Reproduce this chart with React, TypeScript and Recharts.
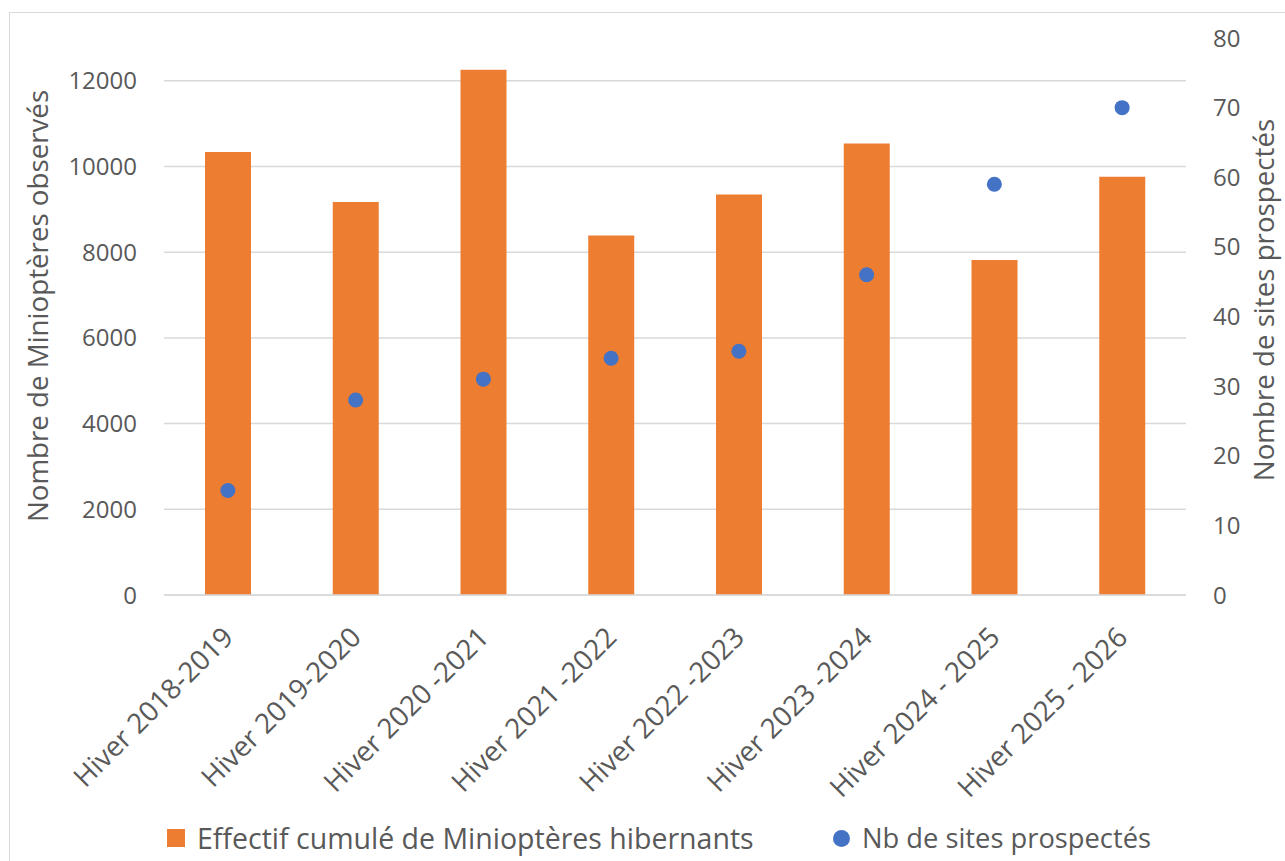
import { ComposedChart, Bar, Line, XAxis, YAxis, CartesianGrid, Legend } from 'recharts';

const seasons = [
  'Hiver 2018-2019',
  'Hiver 2019-2020',
  'Hiver 2020 -2021',
  'Hiver 2021 -2022',
  'Hiver 2022 -2023',
  'Hiver 2023 -2024',
  'Hiver 2024 - 2025',
  'Hiver 2025 - 2026',
];
const effectifs = [10340, 9170, 12260, 8390, 9350, 10540, 7820, 9760];
const sites = [15, 28, 31, 34, 35, 46, 59, 70];
const leftTicks = [0, 2000, 4000, 6000, 8000, 10000, 12000];
const rightTicks = [0, 10, 20, 30, 40, 50, 60, 70, 80];

const FONT = '"Open Sans", sans-serif';
const TEXT = '#595959';
const ORANGE = '#ED7D31';
const BLUE = '#4472C4';

const data = seasons.map((season, i) => ({ season, effectif: effectifs[i], sites: sites[i] }));

function SeasonTick({ x, y, payload }: { x?: number; y?: number; payload?: { value: string } }) {
  return (
    <g transform={`translate(${(x ?? 0) + 7},${(y ?? 0) + 42})`}>
      <text transform="rotate(-45)" textAnchor="end" fill={TEXT} fontSize={27.8} fontFamily={FONT}>
        {payload?.value}
      </text>
    </g>
  );
}

function AxisTitle({ viewBox, dx, cy, value }: { viewBox?: any; dx: number; cy: number; value: string }) {
  const x = (viewBox?.x ?? 0) + dx;
  return (
    <text
      x={x}
      y={cy}
      transform={`rotate(-90, ${x}, ${cy})`}
      textAnchor="middle"
      dominantBaseline="central"
      fill={TEXT}
      fontSize={27.7}
      fontFamily={FONT}
    >
      {value}
    </text>
  );
}

function ChartLegend() {
  const label = { position: 'absolute' as const, top: 14, fontFamily: FONT, color: TEXT, lineHeight: '46px', whiteSpace: 'nowrap' as const };
  return (
    <div style={{ position: 'relative', height: 60, width: 1285 }}>
      <div style={{ position: 'absolute', left: 167, top: 28, width: 18, height: 18, background: ORANGE }} />
      <div style={{ ...label, left: 197, fontSize: 28.5 }}>Effectif cumulé de Minioptères hibernants</div>
      <div style={{ position: 'absolute', left: 833, top: 29, width: 17, height: 17, borderRadius: '50%', background: BLUE }} />
      <div style={{ ...label, left: 862, fontSize: 27.3 }}>Nb de sites prospectés</div>
    </div>
  );
}

export default function App() {
  return (
    <div style={{ position: 'absolute', left: 0, top: 0, width: 1285, height: 861, background: '#fff', overflow: 'hidden' }}>
      <div style={{ position: 'absolute', left: 9, top: 12, width: 1300, height: 900, border: '1.5px solid #d9d9d9' }} />
      <ComposedChart width={1285} height={861} data={data} margin={{ top: 38, right: 0, bottom: 0, left: 0 }}>
        <CartesianGrid yAxisId="left" vertical={false} horizontalValues={leftTicks} stroke="#d9d9d9" strokeWidth={1.5} />
        <XAxis
          dataKey="season"
          height={206}
          interval={0}
          tickLine={false}
          tickSize={0}
          axisLine={{ stroke: '#d9d9d9', strokeWidth: 1.5 }}
          tick={<SeasonTick />}
        />
        <YAxis
          yAxisId="left"
          width={164}
          domain={[0, 13000]}
          ticks={leftTicks}
          axisLine={false}
          tickLine={false}
          tickSize={0}
          tickMargin={27}
          tick={{ fill: TEXT, fontSize: 24, fontFamily: FONT }}
          label={{ content: (p: any) => <AxisTitle viewBox={p.viewBox} dx={37} cy={306} value="Nombre de Minioptères observés" /> }}
        />
        <YAxis
          yAxisId="right"
          orientation="right"
          width={99}
          domain={[0, 80]}
          ticks={rightTicks}
          axisLine={false}
          tickLine={false}
          tickSize={0}
          tickMargin={27}
          tick={{ fill: TEXT, fontSize: 24, fontFamily: FONT }}
          label={{ content: (p: any) => <AxisTitle viewBox={p.viewBox} dx={77} cy={300} value="Nombre de sites prospectés" /> }}
        />
        <Legend verticalAlign="bottom" content={<ChartLegend />} wrapperStyle={{ left: 0, bottom: 0 }} />
        <Bar yAxisId="left" dataKey="effectif" fill={ORANGE} barSize={46} isAnimationActive={false} />
        <Line
          yAxisId="right"
          dataKey="sites"
          stroke="none"
          strokeWidth={0}
          dot={{ r: 7.5, fill: BLUE, stroke: 'none' }}
          activeDot={false}
          isAnimationActive={false}
        />
      </ComposedChart>
    </div>
  );
}
